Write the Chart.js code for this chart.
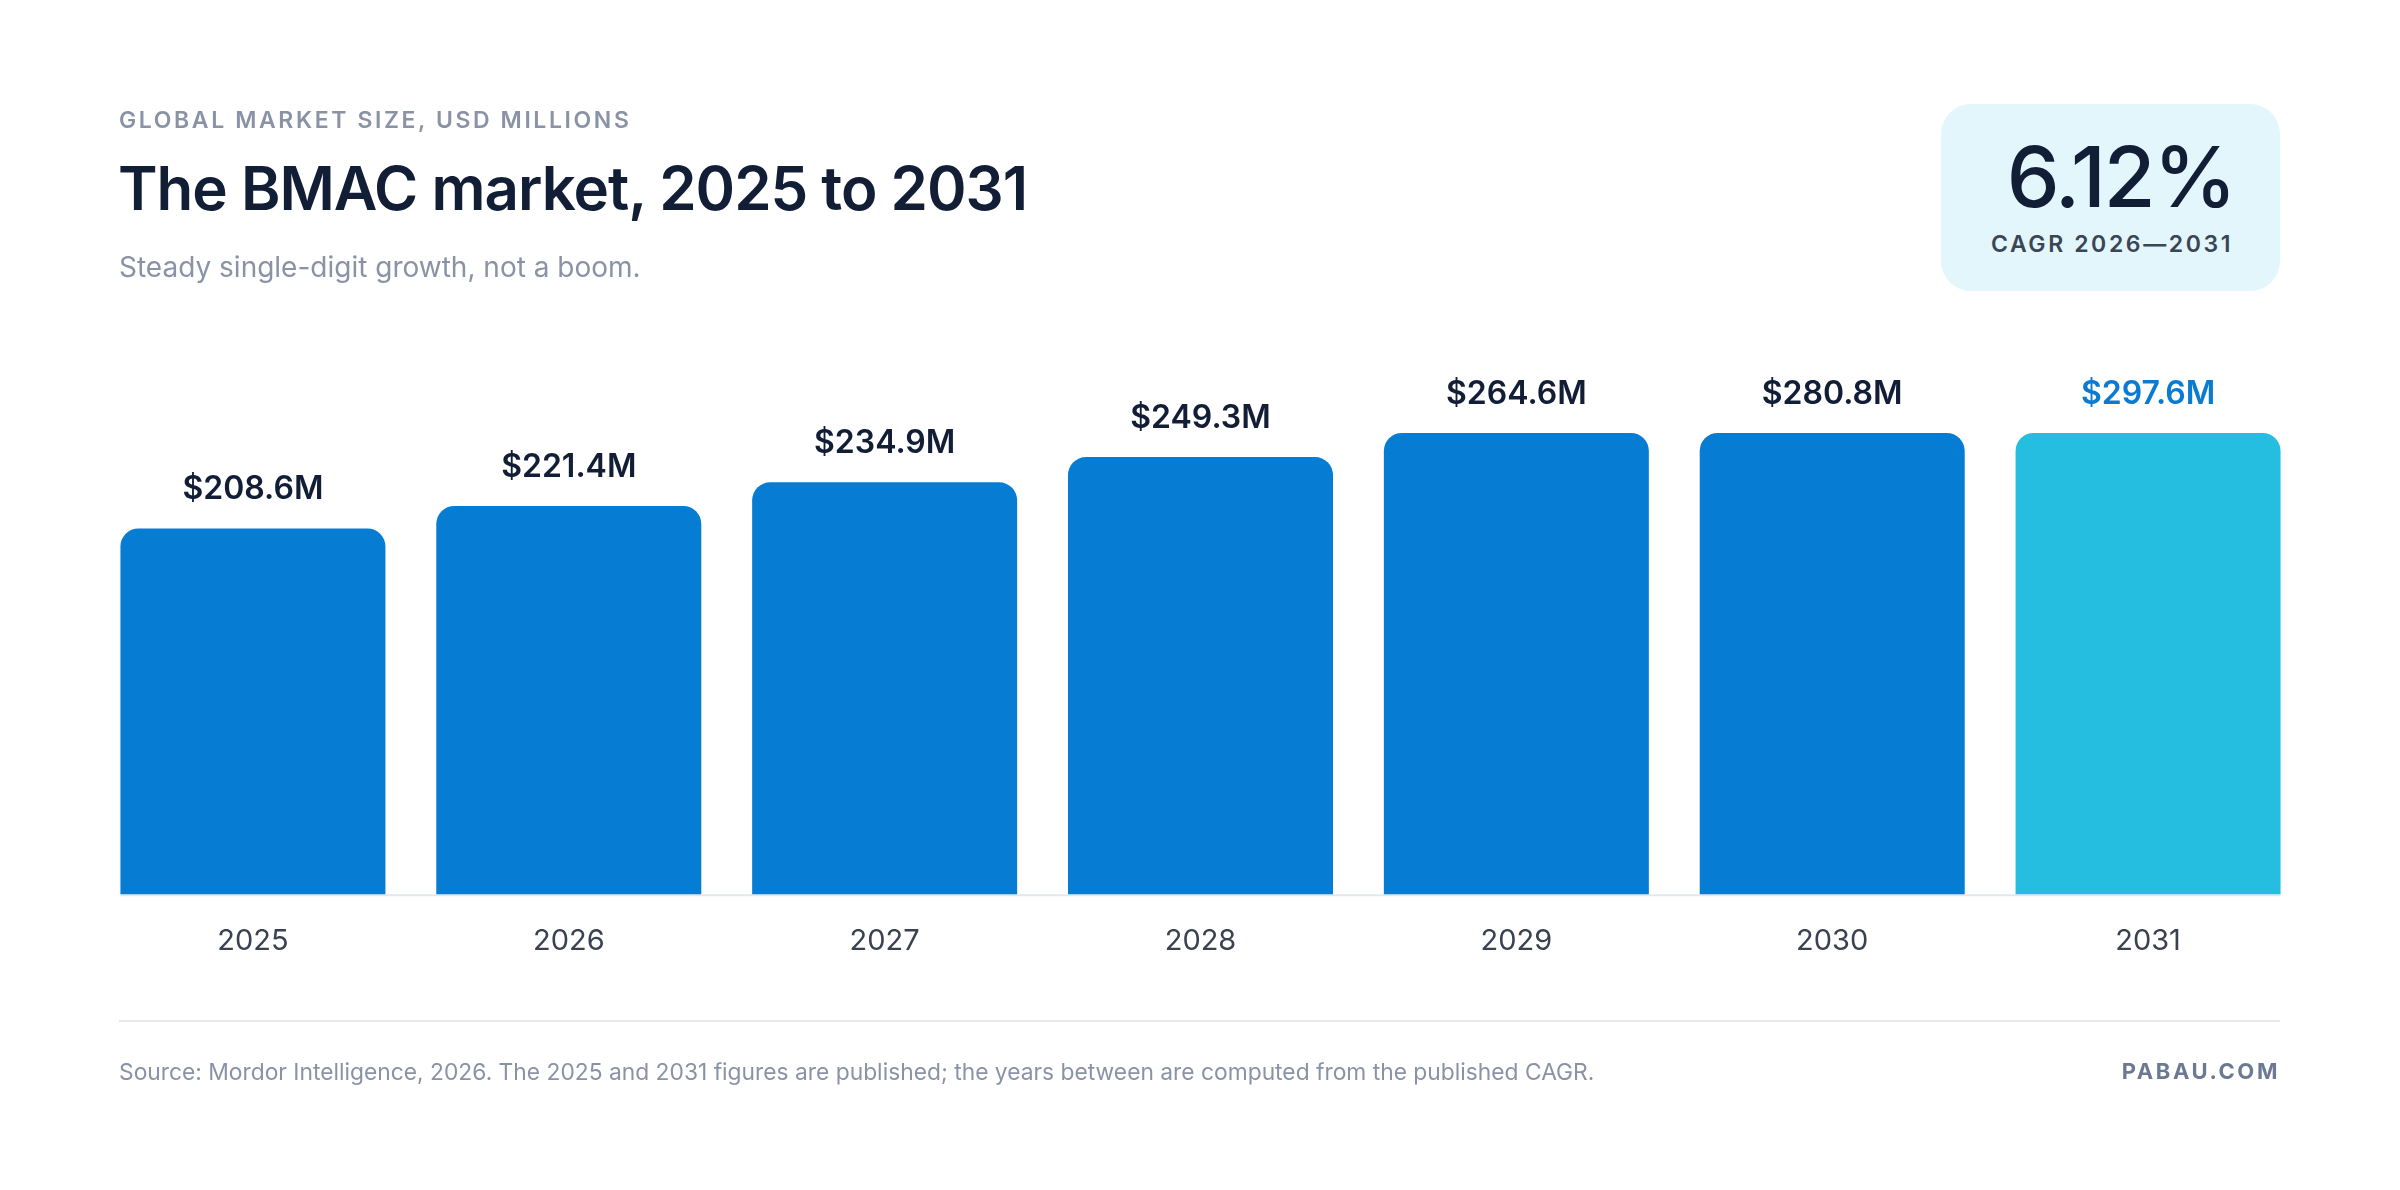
<!DOCTYPE html>
<html><head><meta charset="utf-8">
<script src="https://cdn.jsdelivr.net/npm/chart.js@4/dist/chart.umd.min.js"></script>
<style>
html,body{margin:0;padding:0;background:#fff;width:2400px;height:1190px;overflow:hidden;font-family:Inter,"Noto Sans",sans-serif;}
#wrap{position:absolute;left:0;top:0;width:2400px;height:1190px;}
.t{position:absolute;white-space:nowrap;}
</style></head><body>
<div id="wrap"><canvas id="c"></canvas></div>
<div class="t" style="left:119px;top:106px;font-size:23px;font-weight:600;letter-spacing:2.6px;color:#8a93a6;">GLOBAL MARKET SIZE, USD MILLIONS</div>
<div class="t" style="left:118px;top:152px;font-size:60px;font-weight:600;letter-spacing:-1px;color:#121d36;">The BMAC market, 2025 to 2031</div>
<div class="t" style="left:119px;top:250px;font-size:28px;color:#8a93a6;">Steady single-digit growth, not a boom.</div>
<div class="t" style="left:1941px;top:104px;width:339px;height:187px;border-radius:30px;background:#e3f6fb;"></div>
<div class="t" style="right:165px;top:126px;font-size:84px;font-weight:500;letter-spacing:-2px;color:#121d36;">6.12%</div>
<div class="t" style="right:167px;top:230px;font-size:23px;font-weight:600;letter-spacing:2.6px;color:#3a4556;">CAGR 2026—2031</div>
<div class="t" style="left:119px;top:1020px;width:2161px;height:2px;background:#e5e8ee;"></div>
<div class="t" style="left:119px;top:1058px;font-size:22.8px;color:#8a93a6;">Source: Mordor Intelligence, 2026. The 2025 and 2031 figures are published; the years between are computed from the published CAGR.</div>
<div class="t" style="right:120px;top:1058px;font-size:22px;font-weight:700;letter-spacing:2.6px;color:#6b7a90;">PABAU.COM</div>
<script>
const years = ['2025','2026','2027','2028','2029','2030','2031'];
const values = [208.6, 221.4, 234.9, 249.3, 264.6, 280.8, 297.6];
const valueLabels = ['$208.6M','$221.4M','$234.9M','$249.3M','$264.6M','$280.8M','$297.6M'];
const barColors = ['#077cd3','#077cd3','#077cd3','#077cd3','#077cd3','#077cd3','#25bde0'];
const labelColors = ['#121d36','#121d36','#121d36','#121d36','#121d36','#121d36','#0a7bd1'];

const clampPlugin = {
  id:'clamp',
  beforeDatasetsDraw(chart){
    const top = chart.chartArea.top;
    const data = chart.getDatasetMeta(0).data;
    data.forEach(el=>{ if(el.y<top) el.y=top; });
    const ctx = chart.ctx, b = chart.chartArea.bottom;
    const x0 = data[0].x - data[0].width/2, x1 = data[data.length-1].x + data[data.length-1].width/2;
    ctx.save(); ctx.strokeStyle='#e2e8f0'; ctx.lineWidth=2;
    ctx.beginPath(); ctx.moveTo(x0,b+1); ctx.lineTo(x1,b+1); ctx.stroke(); ctx.restore();
  },
  afterDatasetsDraw(chart){
    const ctx = chart.ctx;
    ctx.save();
    ctx.font = '600 32px Inter, "Noto Sans", sans-serif';
    ctx.textAlign='center'; ctx.textBaseline='alphabetic';
    chart.getDatasetMeta(0).data.forEach((el,i)=>{
      ctx.fillStyle = labelColors[i];
      ctx.fillText(valueLabels[i], el.x, el.y-29);
    });
    ctx.restore();
  }
};

new Chart(document.getElementById('c'),{
  type:'bar',
  data:{labels:years,datasets:[{data:values,backgroundColor:barColors,borderRadius:{topLeft:18,topRight:18},borderSkipped:'bottom',categoryPercentage:1,barPercentage:0.839,clip:false}]},
  options:{
    responsive:true,maintainAspectRatio:false,animation:false,devicePixelRatio:1,
    layout:{padding:{left:95,right:94,top:433,bottom:209}},
    plugins:{legend:{display:false},tooltip:{enabled:false}},
    scales:{
      x:{grid:{display:false},border:{display:false},ticks:{color:'#3a4252',font:{size:29,family:'Inter, "Noto Sans", sans-serif'},padding:22}},
      y:{display:false,min:0,max:263}
    }
  },
  plugins:[clampPlugin]
});
</script>
</body></html>
